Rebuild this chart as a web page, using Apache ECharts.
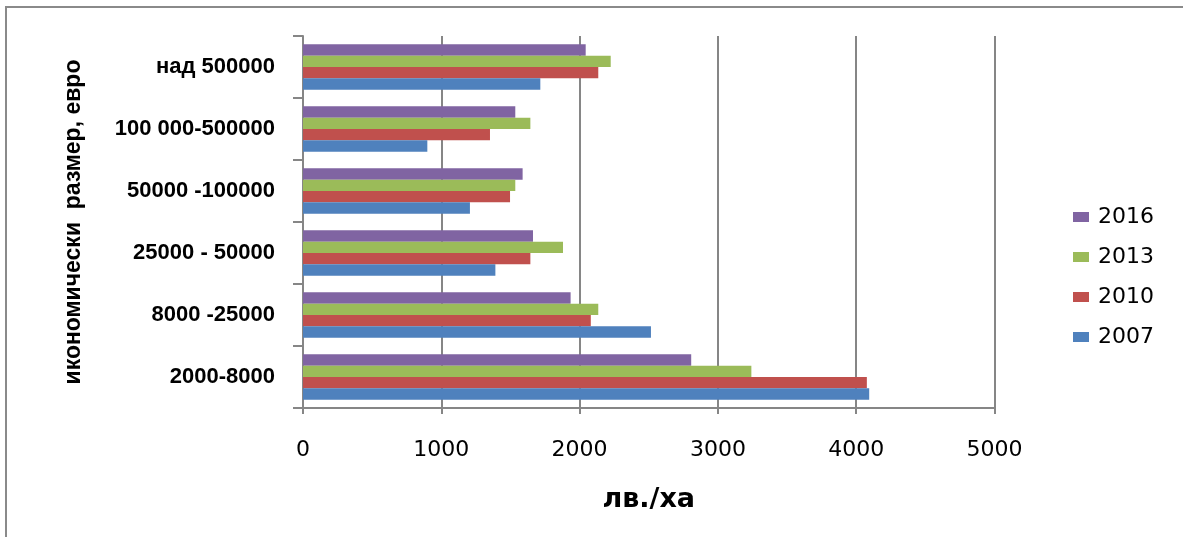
<!DOCTYPE html>
<html>
<head>
<meta charset="utf-8">
<script src="https://cdn.jsdelivr.net/npm/echarts@6/dist/echarts.min.js"></script>
<style>
  html, body { margin: 0; padding: 0; background: #fff; }
  #chart { width: 1183px; height: 537px; }
</style>
</head>
<body>
<div id="chart"></div>
<script>
var categories = ['2000-8000', '8000 -25000', '25000 - 50000', '50000 -100000', '100 000-500000', 'над 500000'];
var years = ['2016', '2013', '2010', '2007'];
var values2007 = [4094, 2516, 1391, 1207, 899, 1716];
var values2010 = [4077, 2081, 1644, 1497, 1352, 2135];
var values2013 = [3242, 2135, 1880, 1535, 1644, 2225];
var values2016 = [2807, 1935, 1663, 1588, 1535, 2044];
var xTicks = [0, 1000, 2000, 3000, 4000, 5000];

// top-down order inside each group: 2016, 2013, 2010, 2007
var colors = ['#8064A2', '#9BBB59', '#C0504D', '#4F81BD'];
var allValues = [values2016, values2013, values2010, values2007];

var chartDom = document.getElementById('chart');
var myChart = echarts.init(chartDom);
var sans = 'Liberation Sans, Arial, sans-serif';
var wide = 'DejaVu Sans, sans-serif';

var series = years.map(function (year, i) {
  return {
    name: year,
    type: 'bar',
    data: allValues[i],
    barGap: '0%',
    barCategoryGap: '27%',
    itemStyle: { color: colors[i] }
  };
});

var option = {
  animation: false,
  graphic: [{
    type: 'rect',
    shape: { x: 6, y: 7, width: 1300, height: 700 },
    style: { fill: 'none', stroke: '#8a8a8a', lineWidth: 2 },
    silent: true
  }],
  grid: {
    left: 303,
    right: 188.5,
    top: 36,
    bottom: 129
  },
  legend: {
    orient: 'vertical',
    left: 1068,
    top: 201,
    data: years,
    itemWidth: 16,
    itemHeight: 10,
    itemGap: 18,
    icon: 'rect',
    textStyle: { fontSize: 22, color: '#000', fontFamily: wide, padding: [0, 0, 0, 4] }
  },
  xAxis: {
    type: 'value',
    min: xTicks[0],
    max: xTicks[xTicks.length - 1],
    interval: 1000,
    name: 'лв./ха',
    nameLocation: 'middle',
    nameGap: 78,
    nameTextStyle: { fontSize: 27, fontWeight: 'bold', color: '#000', fontFamily: wide },
    axisLine: { show: true, lineStyle: { color: '#868686', width: 2 } },
    axisTick: { show: true, length: 6, lineStyle: { color: '#868686', width: 2 } },
    axisLabel: {
      fontSize: 22, color: '#000', margin: 31, fontFamily: wide,
      formatter: function (v) { return String(v); }
    },
    splitLine: { show: true, lineStyle: { color: '#868686', width: 2 } }
  },
  yAxis: {
    type: 'category',
    data: categories,
    name: 'икономически  размер, евро',
    nameLocation: 'middle',
    nameGap: 218,
    nameTextStyle: { fontSize: 23, fontWeight: 'bold', color: '#000', fontFamily: sans },
    axisLine: { show: true, lineStyle: { color: '#868686', width: 2 } },
    axisTick: { show: true, length: 10, lineStyle: { color: '#868686', width: 2 } },
    axisLabel: { fontSize: 22, fontWeight: 'bold', color: '#000', margin: 28, fontFamily: sans },
    splitLine: { show: false }
  },
  series: series
};

myChart.setOption(option);
window.addEventListener('resize', function () { myChart.resize(); });
</script>
</body>
</html>
